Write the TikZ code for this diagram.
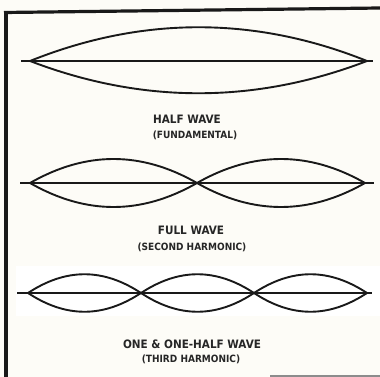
\documentclass[tikz,border=0pt]{standalone}
\usepackage{fontspec}
\setmainfont{DejaVu Sans}
\newfontfamily\condfont{DejaVu Sans Condensed}
\begin{document}
\begin{tikzpicture}[x=1pt,y=-1pt,
  lobe/.style={draw=black!90, line width=1.9pt},
  axis/.style={draw=black!90, line width=1.4pt},
  frame/.style={draw=black!90, line width=3.2pt},
  title/.style={font=\condfont\bfseries\fontsize{11.6}{13}\selectfont, text=black!85, inner sep=0pt},
  sub/.style={font=\condfont\bfseries\fontsize{10}{11}\selectfont, text=black!85, inner sep=0pt}]
\fill[fill={rgb,255:red,253;green,252;blue,247}] (0,0) rectangle (380,377);
\useasboundingbox (0,0) rectangle (380,377);
\fill[white] (16,266) rectangle (380,316);
% frame
\coordinate (ftl) at (4,12.5);
\coordinate (ftr) at (380,8);
\coordinate (fbl) at (6,377);
\draw[frame] (ftl) -- (ftr);
\draw[frame] (6,11) -- (fbl);
\draw[draw=black!45, line width=2pt] (270,376) -- (380,376);
% half wave
\coordinate (a0) at (30,61); \coordinate (a1) at (367,61);
\coordinate (al) at (21,61); \coordinate (ar) at (373,61);
\draw[axis] (al) -- (ar);
\draw[lobe] (a0) .. controls (142,16) and (255,16) .. (a1);
\draw[lobe] (a0) .. controls (142,104) and (255,104) .. (a1);
\node[title] (t1) at (187,119) {HALF WAVE};
\node[sub] (s1) at (195,135) {(FUNDAMENTAL)};
% full wave
\coordinate (b0) at (30,183); \coordinate (b1) at (197,183); \coordinate (b2) at (365,183);
\coordinate (bl) at (20,183); \coordinate (br) at (374,183);
\draw[axis] (bl) -- (br);
\draw[lobe] (b0) .. controls (86,151) and (141,151) .. (b1) .. controls (253,151) and (309,151) .. (b2);
\draw[lobe] (b0) .. controls (86,215) and (141,215) .. (b1) .. controls (253,215) and (309,215) .. (b2);
\node[title] (t2) at (191,230) {FULL WAVE};
\node[sub] (s2) at (192,247) {(SECOND HARMONIC)};
% third harmonic
\coordinate (c0) at (28,293); \coordinate (c1) at (141,293); \coordinate (c2) at (254,293); \coordinate (c3) at (367,293);
\coordinate (cl) at (17,293); \coordinate (cr) at (372,293);
\draw[axis] (cl) -- (cr);
\draw[lobe] (c0) .. controls (66,268) and (103,268) .. (c1) .. controls (179,268) and (216,268) .. (c2) .. controls (292,268) and (329,268) .. (c3);
\draw[lobe] (c0) .. controls (66,318) and (103,318) .. (c1) .. controls (179,318) and (216,318) .. (c2) .. controls (292,318) and (329,318) .. (c3);
\node[title] (t3) at (192,344) {ONE \& ONE-HALF WAVE};
\node[sub] (s3) at (191,359) {(THIRD HARMONIC)};
\end{tikzpicture}
\end{document}
